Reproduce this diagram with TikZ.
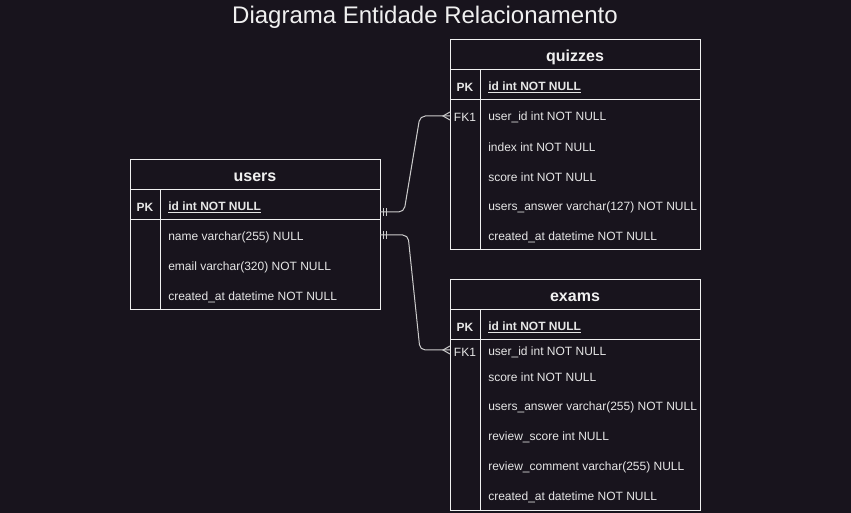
\documentclass[tikz,border=0pt]{standalone}
\usepackage{fontspec}
\setmainfont{Liberation Sans}
\definecolor{bg}{HTML}{18141D}
\definecolor{fg}{HTML}{F0F0F0}
\definecolor{tx}{HTML}{E6E6E6}
\begin{document}
\begin{tikzpicture}[x=0.75pt,y=-0.75pt,
  line/.style={draw=fg,line width=0.75pt},
  hdr/.style={text=fg,font=\fontsize{12pt}{14pt}\selectfont\bfseries,anchor=center,inner sep=0pt,yshift=-1.2pt},
  key/.style={text=tx,font=\fontsize{9pt}{10pt}\selectfont,anchor=center,inner sep=0pt,yshift=-0.8pt},
  fld/.style={text=tx,font=\fontsize{9pt}{10pt}\selectfont,anchor=west,inner sep=0pt,yshift=-0.8pt},
  bfnt/.style={font=\fontsize{9pt}{10pt}\selectfont\bfseries},
  conn/.style={draw=fg!85!black,line width=0.75pt,rounded corners=4pt},
  endmark/.style={draw=fg!85!black,line width=0.75pt}]
\fill[bg] (0,0) rectangle (851,513);
\useasboundingbox (0,0) rectangle (851,513);

\node[text=fg,font=\fontsize{18pt}{20pt}\selectfont,inner sep=0pt,yshift=-1.5pt] (title) at (425,15) {Diagrama Entidade Relacionamento};

% users
\draw[line] (130,160) rectangle (380,310);
\draw[line] (130,190) -- (380,190) (130,220) -- (380,220) (160,190) -- (160,310);
\node[hdr] (users) at (255,176) {users};
\node[key,bfnt] (upk) at (145,206) {PK};
\node[fld,bfnt] (uid) at (168,206) {\underline{id int NOT NULL}};
\node[fld] (uname) at (168,236) {name varchar(255) NULL};
\node[fld] (uemail) at (168,266) {email varchar(320) NOT NULL};
\node[fld] (ucreated) at (168,296) {created\_at datetime NOT NULL};

% quizzes
\draw[line] (450,40) rectangle (700,250);
\draw[line] (450,70) -- (700,70) (450,100) -- (700,100) (480,70) -- (480,250);
\node[hdr] (quizzes) at (575,56) {quizzes};
\node[key,bfnt] (qpk) at (465,86) {PK};
\node[fld,bfnt] (qid) at (488,86) {\underline{id int NOT NULL}};
\node[key] (qfk) at (465,116) {FK1};
\node[fld] (quser) at (488,116) {user\_id int NOT NULL};
\node[fld] (qindex) at (488,146) {index int NOT NULL};
\node[fld] (qscore) at (488,176) {score int NOT NULL};
\node[fld] (qans) at (488,206) {users\_answer varchar(127) NOT NULL};
\node[fld] (qcreated) at (488,236) {created\_at datetime NOT NULL};

% exams
\draw[line] (450,280) rectangle (700,511);
\draw[line] (450,310) -- (700,310) (450,340) -- (700,340) (480,310) -- (480,511);
\node[hdr] (exams) at (575,296) {exams};
\node[key,bfnt] (epk) at (465,326) {PK};
\node[fld,bfnt] (eid) at (488,326) {\underline{id int NOT NULL}};
\node[key] (efk) at (465,351) {FK1};
\node[fld] (euser) at (488,351) {user\_id int NOT NULL};
\node[fld] (escore) at (488,376) {score int NOT NULL};
\node[fld] (eans) at (488,406) {users\_answer varchar(255) NOT NULL};
\node[fld] (erscore) at (488,436) {review\_score int NULL};
\node[fld] (ercomment) at (488,466) {review\_comment varchar(255) NULL};
\node[fld] (ecreated) at (488,496) {created\_at datetime NOT NULL};

% connector end points
\coordinate (uq) at (380,212);
\coordinate (ue) at (380,235);
\coordinate (qin) at (450,116);
\coordinate (ein) at (450,350);

\draw[conn] (uq) -- (404,212) -- (420,116) -- (qin);
\draw[conn] (ue) -- (408,235) -- (420,350) -- (ein);

% one-and-only-one marks
\draw[endmark] (383,208) -- (383,216) (386,208) -- (386,216);
\draw[endmark] (383,231) -- (383,239) (386,231) -- (386,239);
% many marks
\draw[endmark] (450,112) -- (443,116) -- (450,120);
\draw[endmark] (450,346) -- (443,350) -- (450,354);
\end{tikzpicture}
\end{document}
